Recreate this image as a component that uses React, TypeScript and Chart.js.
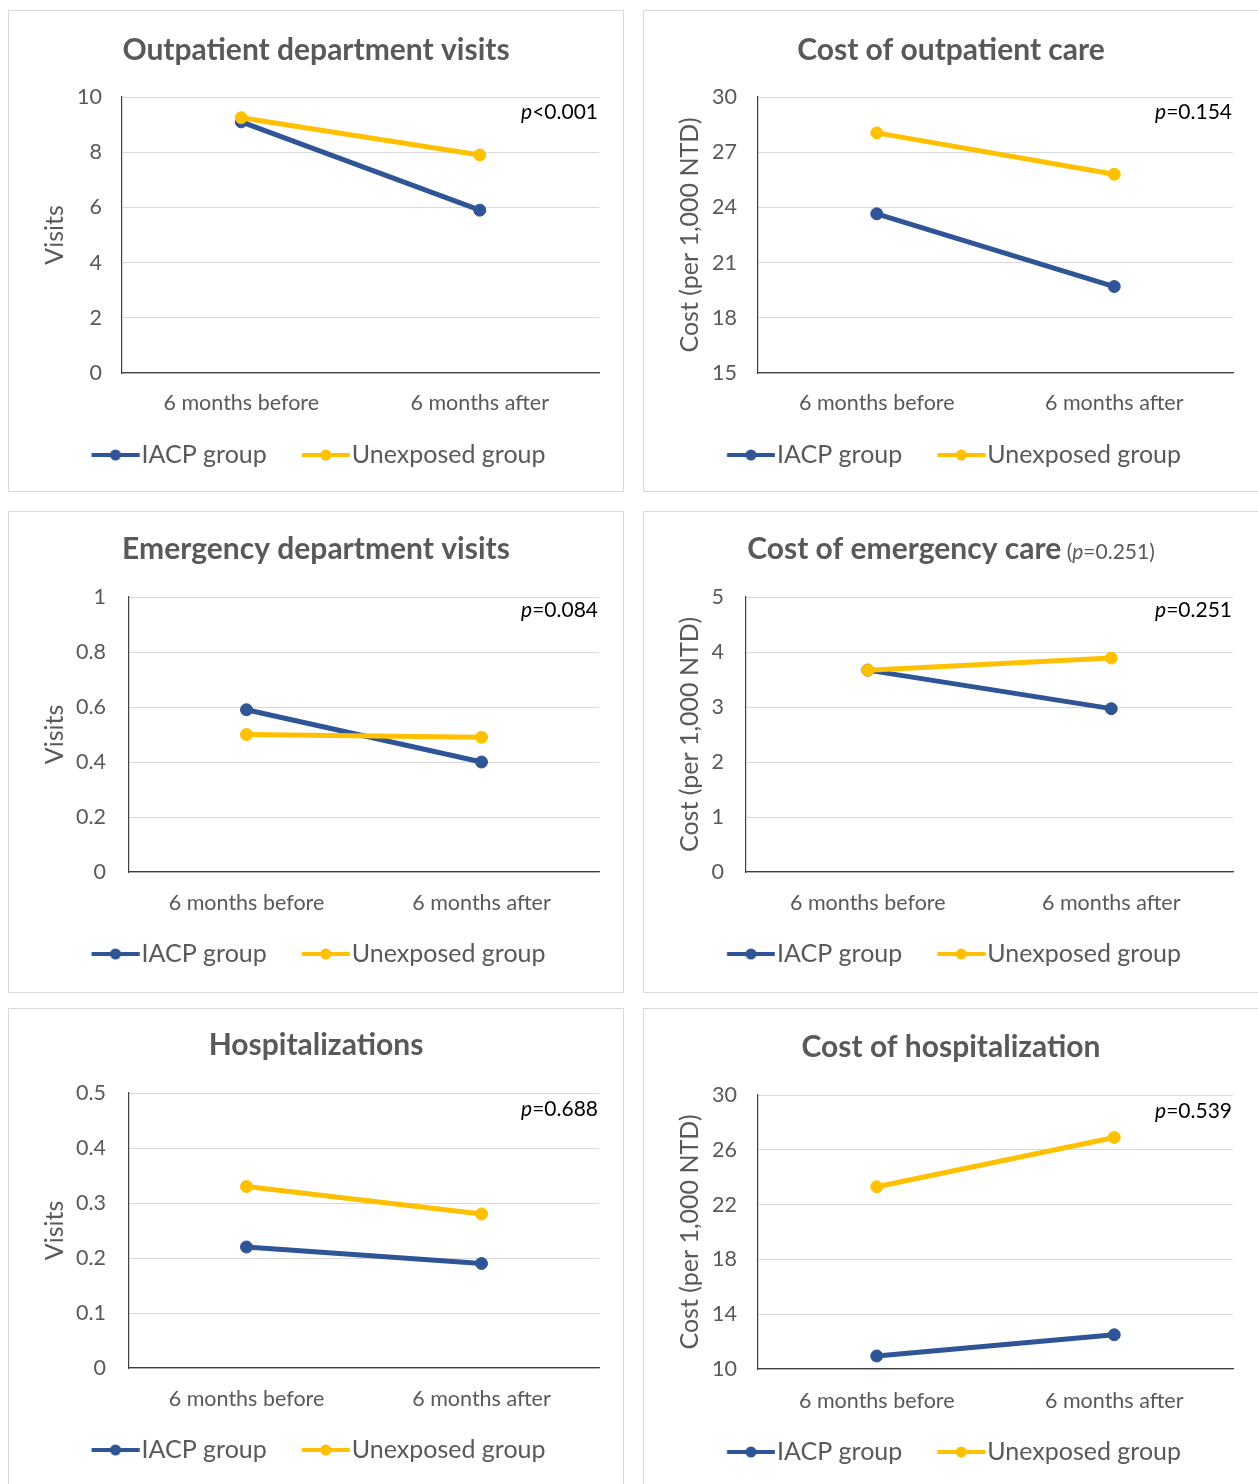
import React, { useEffect, useRef } from 'react';
import { Chart, registerables } from 'chart.js';

Chart.register(...registerables);

// ---------------- data ----------------
const categories = ['6 months before', '6 months after'];
const seriesNames = ['IACP group', 'Unexposed group'];

const opdVisitsIacp = [9.1, 5.9];
const opdVisitsUnexposed = [9.25, 7.9];
const opdCostIacp = [23.65, 19.7];
const opdCostUnexposed = [28.05, 25.8];
const edVisitsIacp = [0.59, 0.4];
const edVisitsUnexposed = [0.5, 0.49];
const edCostIacp = [3.67, 2.97];
const edCostUnexposed = [3.67, 3.89];
const hospVisitsIacp = [0.22, 0.19];
const hospVisitsUnexposed = [0.33, 0.28];
const hospCostIacp = [10.95, 12.5];
const hospCostUnexposed = [23.3, 26.9];

const panelTitles = [
  'Outpatient department visits',
  'Cost of outpatient care',
  'Emergency department visits',
  'Cost of emergency care',
  'Hospitalizations',
  'Cost of hospitalization',
];
const titleSuffixes = ['', '', '', '=0.251', '', ''];
const yAxisTitles = ['Visits', 'Cost (per 1,000 NTD)', 'Visits', 'Cost (per 1,000 NTD)', 'Visits', 'Cost (per 1,000 NTD)'];
const yMins = [0, 15, 0, 0, 0, 10];
const yMaxs = [10, 30, 1, 5, 0.5, 30];
const ySteps = [2, 3, 0.2, 1, 0.1, 4];
const pValues = ['<0.001', '=0.154', '=0.084', '=0.251', '=0.688', '=0.539'];
const iacpSeries = [opdVisitsIacp, opdCostIacp, edVisitsIacp, edCostIacp, hospVisitsIacp, hospCostIacp];
const unexposedSeries = [opdVisitsUnexposed, opdCostUnexposed, edVisitsUnexposed, edCostUnexposed, hospVisitsUnexposed, hospCostUnexposed];

// ---------------- layout / style ----------------
const W = 614;
const H = 480;
const TEXT = '#595959';
const GRID = '#d9d9d9';
const AXIS = '#404040';
const BLUE = '#2F5597';
const GOLD = '#FFC000';
const FONT = "Lato, 'Open Sans', sans-serif";

type Layout = {
  left: number; top: number;
  L: number; T: number; R: number; B: number;
  padL: number; legendY: number; xLabelOff: number; tickPad: number; titleY: number; pOff: number;
};

const LAYOUTS: Layout[] = [
  { left: 8, top: 10, L: 113, T: 86, R: 590, B: 362, padL: 19, legendY: 444, xLabelOff: 30, tickPad: 20, titleY: 49, pOff: 15 },
  { left: 643, top: 10, L: 114, T: 86, R: 589, B: 362, padL: 21, legendY: 444, xLabelOff: 30, tickPad: 21, titleY: 49, pOff: 15 },
  { left: 8, top: 511, L: 120, T: 85, R: 590, B: 360, padL: 19, legendY: 442, xLabelOff: 31, tickPad: 23, titleY: 47, pOff: 13 },
  { left: 643, top: 511, L: 102, T: 85, R: 589, B: 360, padL: 21, legendY: 442, xLabelOff: 31, tickPad: 22, titleY: 47, pOff: 13 },
  { left: 8, top: 1008, L: 120, T: 84, R: 590, B: 359, padL: 19, legendY: 441, xLabelOff: 31, tickPad: 23, titleY: 46, pOff: 16 },
  { left: 643, top: 1008, L: 114, T: 86, R: 589, B: 360, padL: 21, legendY: 443, xLabelOff: 32, tickPad: 21, titleY: 48, pOff: 16 },
];

const TICK_FS = 21.5;
const LEGEND_FS = 25;
const LEGEND_PAD = 25;
const AXIS_TITLE_FS = 25;
const TITLE_FS = 30;
const P_FS = 21;

// legend swatch: line + dot; visible part sits 10px right of the item start
const SWATCH_W = 69;
const POINT_STYLE_W = 47.5;

function legendSwatch(color: string): HTMLCanvasElement {
  const c = document.createElement('canvas');
  c.width = SWATCH_W;
  c.height = 14;
  const g = c.getContext('2d')!;
  g.strokeStyle = color;
  g.lineWidth = 4;
  g.beginPath();
  g.moveTo(20.75, 7);
  g.lineTo(68.75, 7);
  g.stroke();
  g.fillStyle = color;
  g.beginPath();
  g.arc(44.75, 7, 5.5, 0, Math.PI * 2);
  g.fill();
  return c;
}

function fmtTick(v: number): string {
  return String(Math.round(v * 1000) / 1000);
}

function makeConfig(i: number): any {
  const lay = LAYOUTS[i];
  const legendTop = lay.legendY - LEGEND_PAD - LEGEND_FS / 2;
  const legendH = LEGEND_FS + LEGEND_PAD + 10;
  const padR = W - lay.R;
  const hx = legendTop - lay.B;
  const padB = H - legendTop - legendH;
  const xPad = lay.xLabelOff - (TICK_FS * 1.2) / 2;
  const yTitlePad = 46 - lay.padL - (AXIS_TITLE_FS * 1.2) / 2;
  const swatches = [legendSwatch(BLUE), legendSwatch(GOLD)];

  const annotate = {
    id: 'annotate' + i,
    afterDraw(chart: any) {
      const ctx = chart.ctx as CanvasRenderingContext2D;
      const ca = chart.chartArea;
      ctx.save();
      ctx.textBaseline = 'alphabetic';
      ctx.fillStyle = TEXT;
      const mainFont = `700 ${TITLE_FS}px ${FONT}`;
      const smallFont = `400 ${P_FS}px ${FONT}`;
      const smallItalic = `italic 400 ${P_FS}px ${FONT}`;
      ctx.font = mainFont;
      const mainW = ctx.measureText(panelTitles[i]).width;
      const suffix = titleSuffixes[i];
      if (suffix) {
        ctx.font = smallFont;
        const wSpace = ctx.measureText(' (').width;
        const wRest = ctx.measureText(suffix + ')').width;
        ctx.font = smallItalic;
        const wP = ctx.measureText('p').width;
        const total = mainW + wSpace + wP + wRest;
        let x = W / 2 - total / 2;
        ctx.textAlign = 'left';
        ctx.font = mainFont;
        ctx.fillText(panelTitles[i], x, lay.titleY);
        x += mainW;
        ctx.font = smallFont;
        ctx.fillText(' (', x, lay.titleY);
        x += wSpace;
        ctx.font = smallItalic;
        ctx.fillText('p', x, lay.titleY);
        x += wP;
        ctx.font = smallFont;
        ctx.fillText(suffix + ')', x, lay.titleY);
      } else {
        ctx.textAlign = 'center';
        ctx.fillText(panelTitles[i], W / 2, lay.titleY);
      }
      // p-value annotation
      ctx.fillStyle = '#000000';
      ctx.textBaseline = 'middle';
      ctx.textAlign = 'right';
      const rx = ca.right - 1;
      const py = ca.top + lay.pOff;
      ctx.font = smallFont;
      const wr = ctx.measureText(pValues[i]).width;
      ctx.fillText(pValues[i], rx, py);
      ctx.font = smallItalic;
      ctx.fillText('p', rx - wr, py);
      ctx.restore();
    },
  };

  return {
    type: 'line',
    data: {
      labels: categories,
      datasets: [
        {
          label: seriesNames[0],
          data: iacpSeries[i],
          borderColor: BLUE,
          backgroundColor: BLUE,
          pointBackgroundColor: BLUE,
          pointBorderColor: BLUE,
          borderWidth: 5,
          pointRadius: 6,
          pointBorderWidth: 1,
          order: 1,
        },
        {
          label: seriesNames[1],
          data: unexposedSeries[i],
          borderColor: GOLD,
          backgroundColor: GOLD,
          pointBackgroundColor: GOLD,
          pointBorderColor: GOLD,
          borderWidth: 5,
          pointRadius: 6,
          pointBorderWidth: 1,
          order: 0,
        },
      ],
    },
    options: {
      responsive: false,
      animation: false,
      devicePixelRatio: 1,
      events: [],
      layout: { padding: { left: lay.padL, right: padR, top: lay.T, bottom: padB } },
      scales: {
        x: {
          type: 'category',
          offset: true,
          grid: { display: false, drawTicks: false },
          border: { display: true, color: AXIS, width: 1.2 },
          ticks: { padding: xPad, color: TEXT, font: { size: TICK_FS, family: FONT }, maxRotation: 0, autoSkip: false },
          afterFit: (s: any) => { s.height = hx; },
        },
        y: {
          type: 'linear',
          min: yMins[i],
          max: yMaxs[i],
          ticks: {
            stepSize: ySteps[i],
            padding: lay.tickPad,
            color: TEXT,
            font: { size: TICK_FS, family: FONT },
            callback: (v: any) => fmtTick(Number(v)),
          },
          grid: { color: GRID, drawTicks: false, lineWidth: 1 },
          border: { display: true, color: AXIS, width: 1.2 },
          title: {
            display: true,
            text: yAxisTitles[i],
            color: TEXT,
            font: { size: AXIS_TITLE_FS, family: FONT, weight: 'normal' },
            padding: { top: yTitlePad, bottom: 0 },
          },
          afterFit: (s: any) => { s.width = lay.L - lay.padL; },
        },
      },
      plugins: {
        title: { display: false },
        tooltip: { enabled: false },
        legend: {
          display: true,
          position: 'bottom',
          align: 'center',
          labels: {
            usePointStyle: true,
            pointStyleWidth: POINT_STYLE_W,
            padding: LEGEND_PAD,
            color: TEXT,
            font: { size: LEGEND_FS, family: FONT },
            generateLabels: () =>
              seriesNames.map((name, k) => ({
                text: name,
                fillStyle: k === 0 ? BLUE : GOLD,
                strokeStyle: k === 0 ? BLUE : GOLD,
                fontColor: TEXT,
                lineWidth: 0,
                hidden: false,
                datasetIndex: k,
                pointStyle: swatches[k],
              })),
          },
        },
      },
    },
    plugins: [annotate],
  };
}

function Panel({ index }: { index: number }) {
  const ref = useRef<HTMLCanvasElement | null>(null);
  useEffect(() => {
    if (!ref.current) return;
    const chart = new Chart(ref.current, makeConfig(index));
    let alive = true;
    const fonts: any = (document as any).fonts;
    if (fonts && fonts.load) {
      Promise.all([
        fonts.load(`700 ${TITLE_FS}px Lato`),
        fonts.load(`400 ${TICK_FS}px Lato`),
        fonts.load(`italic 400 ${P_FS}px Lato`),
      ]).then(() => { if (alive) chart.update('none'); }).catch(() => {});
    }
    return () => { alive = false; chart.destroy(); };
  }, [index]);
  const lay = LAYOUTS[index];
  return (
    <div
      style={{
        position: 'absolute',
        left: lay.left,
        top: lay.top,
        width: W,
        height: H,
        border: '1px solid #d9d9d9',
        background: '#ffffff',
      }}
    >
      <canvas ref={ref} width={W} height={H} style={{ display: 'block', width: W, height: H }} />
    </div>
  );
}

export default function App() {
  return (
    <div
      style={{
        position: 'absolute',
        left: 0,
        top: 0,
        width: 1258,
        height: 1484,
        overflow: 'hidden',
        background: '#ffffff',
        fontFamily: FONT,
      }}
    >
      {panelTitles.map((_, i) => (
        <Panel key={i} index={i} />
      ))}
    </div>
  );
}
